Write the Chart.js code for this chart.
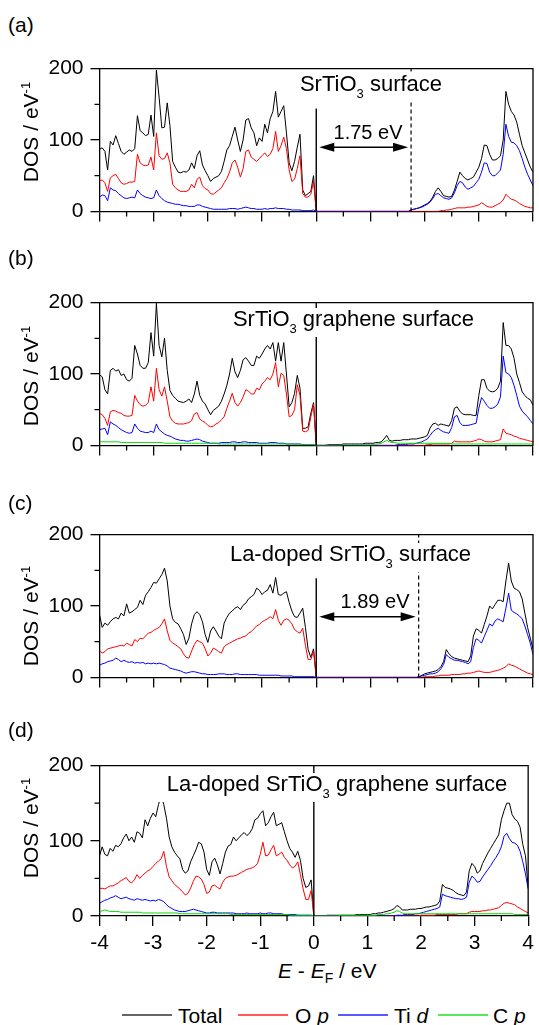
<!DOCTYPE html>
<html>
<head>
<meta charset="utf-8">
<script src="https://cdn.jsdelivr.net/npm/chart.js@4.4.1/dist/chart.umd.min.js"></script>
<style>
  body { margin: 0; background: #fff; font-family: 'Liberation Sans', Arial, sans-serif; color: #000; }
  #fig { position: relative; width: 539px; height: 1025px; overflow: hidden; background: #fff; }
  canvas { position: absolute; left: 0; }
  .t { position: absolute; white-space: nowrap; }
  .lab { font-size: 21px; line-height: 21px; left: 8px; }
  .ytl { position: absolute; left: 29.5px; font-size: 21px; line-height: 21px; white-space: nowrap;
         transform: translate(-50%, -50%) rotate(-90deg); }
  .sup { font-size: 13px; position: relative; top: -8px; line-height: 0; }
  .ttl { position: absolute; font-size: 22px; line-height: 22px; background: #fff; padding: 0 8px 7px;
         transform: translateX(-50%); white-space: nowrap; }
  .sb { font-size: 13px; position: relative; top: 7px; line-height: 0; }
  .gl { position: absolute; font-size: 20px; line-height: 20px; transform: translateX(-50%); white-space: nowrap; }
  .xt { font-size: 21px; line-height: 21px; left: 278px; top: 960px; }
  .sbF { font-size: 14px; position: relative; top: 5px; line-height: 0; }
  .lg { position: absolute; top: 1014px; width: 50px; height: 2px; }
  .lt { font-size: 21px; line-height: 21px; top: 1004.5px; }
</style>
</head>
<body>
<div id="fig">
  <canvas id="cA" width="539" height="182" style="top:49px"></canvas>
  <canvas id="cB" width="539" height="182" style="top:283px"></canvas>
  <canvas id="cC" width="539" height="182" style="top:515px"></canvas>
  <canvas id="cD" width="539" height="210" style="top:746px"></canvas>

  <!-- panel letters -->
  <div class="t lab" style="top:14px">(a)</div>
  <div class="t lab" style="top:247px">(b)</div>
  <div class="t lab" style="top:492px">(c)</div>
  <div class="t lab" style="top:719px">(d)</div>

  <!-- y titles -->
  <div class="ytl" style="top:131.5px">DOS / eV<span class="sup">-1</span></div>
  <div class="ytl" style="top:376px">DOS / eV<span class="sup">-1</span></div>
  <div class="ytl" style="top:616px">DOS / eV<span class="sup">-1</span></div>
  <div class="ytl" style="top:827.5px">DOS / eV<span class="sup">-1</span></div>

  <!-- panel titles (white box hides lines behind) -->
  <div class="ttl" style="left:371px;top:73.4px">SrTiO<span class="sb">3</span> surface</div>
  <div class="ttl" style="left:353.5px;top:308.4px">SrTiO<span class="sb">3</span> graphene surface</div>
  <div class="ttl" style="left:350.5px;top:543.4px">La-doped SrTiO<span class="sb">3</span> surface</div>
  <div class="ttl" style="left:337px;top:773.4px">La-doped SrTiO<span class="sb">3</span> graphene surface</div>

  <!-- band gap labels -->
  <div class="gl" style="left:368px;top:122.4px">1.75 eV</div>
  <div class="gl" style="left:375px;top:591px">1.89 eV</div>

  <!-- x title -->
  <div class="t xt"><i>E</i> - <i>E</i><span class="sbF">F</span> / eV</div>

  <!-- legend -->
  <div class="lg" style="left:122px;background:rgba(0,0,0,0.6)"></div>
  <div class="t lt" style="left:178px">Total</div>
  <div class="lg" style="left:238px;background:rgba(255,0,0,0.65)"></div>
  <div class="t lt" style="left:295px">O <i>p</i></div>
  <div class="lg" style="left:338px;background:rgba(0,0,255,0.65)"></div>
  <div class="t lt" style="left:394px">Ti <i>d</i></div>
  <div class="lg" style="left:438px;background:rgba(0,220,0,0.65)"></div>
  <div class="t lt" style="left:493px">C <i>p</i></div>
</div>

<script>
// ---------- DATI ----------
// griglia di energia E - EF (eV), passo 0.05
const energy = [
  -4,-3.95,-3.9,-3.85,-3.8,-3.75,-3.7,-3.65,-3.6,-3.55,-3.5,-3.45,-3.4,-3.35,-3.3,-3.25,-3.2,-3.15,-3.1,-3.05,
  -3,-2.95,-2.9,-2.85,-2.8,-2.75,-2.7,-2.65,-2.6,-2.55,-2.5,-2.45,-2.4,-2.35,-2.3,-2.25,-2.2,-2.15,-2.1,-2.05,
  -2,-1.95,-1.9,-1.85,-1.8,-1.75,-1.7,-1.65,-1.6,-1.55,-1.5,-1.45,-1.4,-1.35,-1.3,-1.25,-1.2,-1.15,-1.1,-1.05,
  -1,-0.95,-0.9,-0.85,-0.8,-0.75,-0.7,-0.65,-0.6,-0.55,-0.5,-0.45,-0.4,-0.35,-0.3,-0.25,-0.2,-0.15,-0.1,-0.05,
  0,0.05,0.1,0.15,0.2,0.25,0.3,0.35,0.4,0.45,0.5,0.55,0.6,0.65,0.7,0.75,0.8,0.85,0.9,0.95,
  1,1.05,1.1,1.15,1.2,1.25,1.3,1.35,1.4,1.45,1.5,1.55,1.6,1.65,1.7,1.75,1.8,1.85,1.9,1.95,
  2,2.05,2.1,2.15,2.2,2.25,2.3,2.35,2.4,2.45,2.5,2.55,2.6,2.65,2.7,2.75,2.8,2.85,2.9,2.95,
  3,3.05,3.1,3.15,3.2,3.25,3.3,3.35,3.4,3.45,3.5,3.55,3.6,3.65,3.7,3.75,3.8,3.85,3.9,3.95,4
];

// (a) SrTiO3 surface
const aTotal = [
  87,89,84,58,98,93,106,95,84,80,83,86,84,88,134,113,110,106,108,135,
  105,198,160,117,118,152,120,70,62,55,54,56,55,58,68,60,78,85,65,57,
  50,42,46,48,50,56,70,86,92,105,118,100,84,100,128,130,117,110,92,103,
  98,122,110,130,140,168,132,140,148,110,68,57,70,90,108,30,22,25,28,50,
  0,0,0,0,0,0,0,0,0,0,0,0,0,0,0,0,0,0,0,0,
  0,0,0,0,0,0,0,0,0,0,0,0,0,0,0,2,3,4,5,7,
  9,11,14,20,28,33,28,22,21,20,21,30,42,55,50,46,44,46,48,55,
  62,74,93,92,80,72,72,74,78,100,168,150,140,135,125,108,92,82,72,62,55
];
const aOp = [
  43,44,40,28,47,50,52,46,40,38,39,41,41,42,80,68,65,64,65,76,
  58,110,78,73,74,82,68,38,33,30,28,28,28,30,38,33,45,48,36,32,
  30,25,24,27,30,33,40,46,55,68,72,62,48,60,84,86,76,73,70,74,
  78,82,77,80,88,112,84,92,104,88,58,42,45,60,78,25,20,20,24,42,
  0,0,0,0,0,0,0,0,0,0,0,0,0,0,0,0,0,0,0,0,
  0,0,0,0,0,0,0,0,0,0,0,0,0,0,0,0,0,0,0,0,
  0,0,0,0,0,0,1,1,2,2,3,4,5,5,5,5,6,6,7,8,
  9,12,10,7,6,6,8,10,12,16,24,20,17,16,14,11,9,7,6,5,5
];
const aTid = [
  20,23,22,15,33,30,29,25,22,19,18,19,20,19,30,25,22,20,19,18,
  19,30,22,18,15,13,12,11,10,10,9,8,8,7,7,7,9,9,7,6,
  5,4,3,3,3,3,3,3,4,4,4,3,4,5,6,5,4,4,3,3,
  3,4,3,4,4,5,4,4,4,3,3,2,2,2,2,1,1,1,1,2,
  0,0,0,0,0,0,0,0,0,0,0,0,0,0,0,0,0,0,0,0,
  0,0,0,0,0,0,0,0,0,0,0,0,0,0,0,2,3,4,5,6,
  8,10,13,18,24,25,22,19,18,17,19,26,36,42,40,34,31,33,35,40,
  45,55,68,67,55,50,50,54,58,80,122,105,97,96,92,85,74,62,52,44,36
];

// (b) SrTiO3 graphene surface
const bTotal = [
  99,96,78,72,105,108,104,106,98,100,92,90,94,140,128,112,108,108,116,158,
  125,199,140,124,150,105,77,70,66,62,61,60,62,65,60,72,90,70,62,58,
  50,43,49,52,55,62,72,84,100,122,103,95,105,120,123,118,112,112,125,122,
  128,135,140,135,144,118,144,118,144,100,54,60,73,98,80,24,24,26,45,60,
  0,0,0,0,0.5,1,1,1,1,1,2,2,2,2,2,2,2,2,3,3,
  3,3,4,4,5,9,14,7,6,7,7,7,8,8,8,9,9,9,10,11,
  12,14,24,30,31,28,30,29,28,27,35,52,54,48,44,43,43,43,42,42,
  70,92,92,80,76,75,76,80,90,172,140,140,135,122,100,88,75,70,66,64,56
];
const bOp = [
  45,43,38,28,47,49,48,46,45,42,41,41,42,70,62,57,55,56,60,82,
  62,108,78,69,82,62,40,34,31,30,30,30,31,32,35,44,46,37,34,32,
  28,26,27,30,32,36,40,52,62,73,60,55,60,68,78,76,72,72,80,78,
  86,90,95,92,100,116,82,101,98,72,40,42,50,85,70,20,19,21,40,58,
  0,0,0,0,0,0,0,0,0,0,0,0,0,0,0,0,0,0,0,0,
  0,0,0,0,0,0,0,0,0,0,0,0,0,0,0,0,0,0,0,0,
  0,1,1,2,2,2,2,2,2,2,3,6,5,5,5,5,5,5,6,7,
  9,8,6,5,5,5,6,7,8,23,17,16,15,13,12,10,9,8,7,6,5
];
const bTid = [
  22,23,24,15,33,30,28,25,22,20,18,17,18,30,24,20,19,18,18,20,
  18,30,22,19,16,14,13,11,9,8,7,7,6,6,7,8,9,8,6,5,
  4,3,3,3,3,4,4,4,4,5,5,4,4,5,5,4,4,4,4,3,
  3,3,3,4,4,4,3,3,3,2,2,2,2,2,2,1,1,1,1,1,
  0,0,0,0,0,0,0,0,0,0,0,0,0,0,0,0,0,0,0,0,
  0,0,0,0,0,0,0,0,0,0,1,1,1,1,2,2,2,3,4,5,
  7,9,14,19,22,24,21,19,18,17,25,40,42,32,28,28,28,29,30,31,
  52,67,62,56,52,52,54,58,68,125,102,100,95,84,70,55,48,44,40,35,30
];
const bCp = [
  5,5,5,5,5,5,5,5,4,4,4,4,4,4,4,4,4,4,4,4,
  4,4,4,4,3,3,3,3,3,3,3,3,3,3,3,3,3,3,3,3,
  3,3,3,3,2,2,2,2,2,2,2,2,2,2,2,2,2,2,2,2,
  2,2,2,2,2,2,2,2,2,2,2,2,1,1,1,1,1,1,1,1,
  0,0,0,0,0,0,0,0,0,0,1,1,1,1,1,1,1,1,1,1,
  1,1,2,2,3,5,7,5,4,4,3,3,3,3,3,3,3,3,3,3,
  3,3,3,3,3,3,3,3,3,3,2,2,2,2,2,2,2,2,2,2,
  2,2,2,2,2,2,2,2,2,2,2,2,2,2,2,2,2,2,2,2,2
];

// (c) La-doped SrTiO3 surface
const cTotal = [
  88,70,76,73,78,82,84,82,90,86,103,90,92,95,98,108,102,115,120,126,
  133,132,138,144,153,135,100,82,77,75,68,60,46,55,75,88,92,88,78,60,
  49,65,71,65,58,54,76,84,90,93,97,99,95,101,104,110,113,116,125,122,
  116,120,122,130,118,140,116,115,118,120,105,93,85,84,90,97,70,39,28,40,
  0,0,0,0,0,0,0,0,0,0,0,0,0,0,0,0,0,0,0,0,
  0,0,0,0,0,0,0,0,0,0,0,0,0,0,0,0,0,0,1,3,
  5,6,7,8,9,11,15,22,39,33,29,27,26,25,24,23,22,30,58,68,
  66,62,74,86,100,96,102,108,108,106,135,160,135,125,123,120,110,90,70,55,40
];
const cOp = [
  38,34,36,40,41,42,43,44,45,44,48,46,44,53,50,55,54,58,62,63,
  66,68,70,75,82,65,52,48,46,43,40,33,28,27,37,46,52,50,48,40,
  30,34,41,39,36,34,43,46,48,50,52,54,55,57,58,62,64,68,72,74,
  78,80,82,85,82,95,80,73,80,82,80,75,67,64,62,69,45,25,25,37,
  0,0,0,0,0,0,0,0,0,0,0,0,0,0,0,0,0,0,0,0,
  0,0,0,0,0,0,0,0,0,0,0,0,0,0,0,0,0,0,0,0,
  1,1,1,1,2,2,3,3,3,3,4,4,4,4,5,5,6,6,7,8,
  9,8,7,7,7,8,9,10,11,13,15,19,17,16,14,12,10,8,6,5,4
];
const cTid = [
  17,19,20,22,23,24,27,25,22,24,22,21,22,20,21,20,21,19,20,19,
  20,19,20,19,18,16,13,12,11,10,9,7,6,7,8,8,7,6,5,5,
  4,4,4,4,5,5,5,4,4,4,5,5,4,4,4,4,4,4,4,3,
  3,3,3,3,3,3,3,2,2,2,2,2,1,1,1,1,1,1,1,1,
  0,0,0,0,0,0,0,0,0,0,0,0,0,0,0,0,0,0,0,0,
  0,0,0,0,0,0,0,0,0,0,0,0,0,0,0,0,0,0,1,2,
  3,4,5,5,6,8,12,18,32,28,26,24,24,23,22,21,19,22,42,54,
  52,48,57,66,75,72,79,82,80,78,97,118,94,91,89,86,82,72,60,48,32
];

// (d) La-doped SrTiO3 graphene surface
const dTotal = [
  80,92,82,80,90,86,94,92,96,104,109,100,105,98,112,110,104,128,120,130,
  137,132,148,160,148,130,105,92,85,80,76,62,57,60,72,80,88,98,96,85,
  62,54,72,77,68,56,70,85,93,95,105,100,104,108,111,107,110,116,128,130,
  136,140,120,124,132,138,120,122,124,112,100,90,85,78,86,74,50,38,40,48,
  0,0,0,0,0,1,1,1,1,1,1,1,1,1,1,1,2,2,2,2,
  2,2,3,3,4,4,5,6,7,8,10,14,12,8,8,8,9,9,9,10,
  10,11,12,12,13,14,15,20,42,38,37,36,34,31,29,28,27,32,60,70,
  66,57,60,70,77,84,90,96,102,108,128,140,150,150,135,129,126,118,95,80,38
];
const dOp = [
  36,37,36,38,40,40,42,44,47,49,51,46,44,48,55,50,54,57,60,62,
  66,70,73,76,86,66,52,47,42,39,36,32,28,30,37,46,53,52,49,42,
  30,32,40,41,38,36,45,50,52,53,53,54,56,58,60,62,63,64,66,70,
  82,98,80,81,88,94,80,82,85,78,74,68,64,66,72,55,36,22,22,34,
  0,0,0,0,0,0,0,0,0,0,0,0,0,0,0,0,0,0,0,0,
  0,0,0,0,0,0,0,0,0,0,0,0,0,0,0,0,0,0,0,0,
  1,1,1,1,1,1,2,2,2,2,2,2,2,2,3,3,3,3,5,6,
  6,6,6,7,7,8,8,9,10,11,14,17,18,17,16,15,12,10,8,6,4
];
const dTid = [
  17,19,21,22,24,25,27,25,23,24,25,23,22,21,23,22,21,22,21,20,
  21,20,22,21,19,15,12,10,8,7,6,6,6,7,8,9,8,7,6,5,
  4,4,5,5,4,4,4,4,4,4,4,3,3,3,3,4,3,3,3,3,
  4,3,3,4,4,3,3,3,3,2,2,2,2,2,1,1,1,1,1,1,
  0,0,0,0,0,0,0,0,0,0,0,0,0,0,0,0,0,0,0,0,
  0,0,0,0,0,0,0,0,0,0,0,1,1,1,2,2,2,2,3,3,
  4,5,6,7,8,9,10,12,29,27,26,25,24,23,23,22,23,25,45,53,
  50,45,46,52,57,62,67,73,78,84,92,106,110,103,98,97,94,86,72,56,36
];
const dCp = [
  5,7,8,7,6,6,6,6,5,5,5,5,5,5,5,5,4,4,4,4,
  4,4,4,4,4,4,4,4,4,4,3,3,3,3,3,3,3,3,3,3,
  3,3,3,3,3,3,3,3,3,2,2,2,2,2,2,2,2,2,2,2,
  2,2,2,2,2,2,2,2,2,2,2,1,1,1,1,1,1,1,1,1,
  0,0,0,0,0,0,0,0,0,0,1,1,1,1,1,1,1,1,1,1,
  1,1,1,1,2,2,2,3,3,4,5,7,6,4,3,3,3,3,3,3,
  3,3,3,3,3,3,3,3,3,3,3,3,3,3,3,3,3,3,3,3,
  3,3,3,3,3,3,3,3,3,3,3,3,3,3,3,2,2,2,2,2,2
];

// linee di riferimento per pannello: EF, gap, freccia
const fermiTop   = [144, 200, 139, 200];
const gapEnergy  = [1.75, null, 1.89, null];
const arrowLevel = [90, null, 85, null];

// tacche minori
const minorY = [50, 150];
const minorX = [-3.5, -2.5, -1.5, -0.5, 0.5, 1.5, 2.5, 3.5];

const seriesMeta = [
  { label: 'Total', color: '#000000' },
  { label: 'O p',   color: '#ff0000' },
  { label: 'Ti d',  color: '#0000ff' },
  { label: 'C p',   color: '#00dd00' },
];

const panels = [
  { id: 'cA', series: [aTotal, aOp, aTid, null] },
  { id: 'cB', series: [bTotal, bOp, bTid, bCp] },
  { id: 'cC', series: [cTotal, cOp, cTid, null] },
  { id: 'cD', series: [dTotal, dOp, dTid, dCp] },
];

// controllo lunghezze
panels.forEach(p => p.series.forEach((s, k) => {
  if (s && s.length !== energy.length) throw new Error(p.id + ' series ' + k + ' has ' + s.length);
}));

// ---------- PLUGIN: cornice, tacche minori, freccia del gap ----------
const frame = {
  id: 'frame',
  afterDatasetsDraw(chart, args, opts) {
    const { ctx, chartArea: a, scales: { x, y } } = chart;
    ctx.save();
    ctx.strokeStyle = '#000';
    ctx.fillStyle = '#000';
    ctx.lineWidth = 1.3;
    ctx.beginPath();
    ctx.moveTo(a.left, a.top);
    ctx.lineTo(a.right, a.top);
    ctx.lineTo(a.right, a.bottom);
    ctx.stroke();

    ctx.beginPath();
    minorY.forEach(v => {
      const py = y.getPixelForValue(v);
      ctx.moveTo(a.left, py); ctx.lineTo(a.left - 5, py);
    });
    minorX.forEach(v => {
      const px = x.getPixelForValue(v);
      ctx.moveTo(px, a.bottom); ctx.lineTo(px, a.bottom + 5);
    });
    ctx.stroke();

    if (opts.gap != null) {
      const py = y.getPixelForValue(opts.level);
      const x0 = x.getPixelForValue(0) + 3;
      const x1 = x.getPixelForValue(opts.gap) - 3;
      ctx.lineWidth = 1.5;
      ctx.beginPath();
      ctx.moveTo(x0 + 10, py); ctx.lineTo(x1 - 10, py);
      ctx.stroke();
      ctx.beginPath();
      ctx.moveTo(x0, py); ctx.lineTo(x0 + 15, py - 4.5); ctx.lineTo(x0 + 15, py + 4.5); ctx.closePath();
      ctx.moveTo(x1, py); ctx.lineTo(x1 - 15, py - 4.5); ctx.lineTo(x1 - 15, py + 4.5); ctx.closePath();
      ctx.fill();
    }
    ctx.restore();
  }
};

Chart.defaults.font.family = "'Liberation Sans', Arial, sans-serif";
Chart.defaults.color = '#000';

const toPoints = arr => energy.map((e, i) => ({ x: e, y: arr[i] }));

function makePanel(p, i) {
  const last = i === panels.length - 1;
  const ds = [];
  seriesMeta.forEach((m, k) => {
    const arr = p.series[k];
    if (!arr) return;
    ds.push({
      label: m.label, data: toPoints(arr),
      borderColor: m.color, borderWidth: 1, pointRadius: 0, tension: 0,
      order: 4 - k,
    });
  });
  // linea del livello di Fermi
  ds.push({
    label: 'EF', data: [{ x: 0, y: 0 }, { x: 0, y: fermiTop[i] }],
    borderColor: '#000', borderWidth: 1.4, pointRadius: 0, order: 0,
  });
  // linea tratteggiata del bordo di banda
  if (gapEnergy[i] != null) {
    ds.push({
      label: 'gap', data: [{ x: gapEnergy[i], y: 0 }, { x: gapEnergy[i], y: 200 }],
      borderColor: '#000', borderWidth: 1.2, borderDash: [4, 3], pointRadius: 0, order: 0,
    });
  }

  new Chart(document.getElementById(p.id), {
    type: 'line',
    data: { datasets: ds },
    options: {
      responsive: false,
      animation: false,
      events: [],
      layout: { padding: { top: 15, right: 6, left: 0, bottom: 0 } },
      plugins: {
        legend: { display: false },
        tooltip: { enabled: false },
        frame: { gap: gapEnergy[i], level: arrowLevel[i] },
      },
      scales: {
        x: {
          type: 'linear', min: -4, max: 4,
          ticks: { stepSize: 1, display: last, padding: 5, maxRotation: 0, autoSkip: false,
                   font: { size: 21 }, color: '#000', callback: v => String(v) },
          grid: { drawOnChartArea: false, drawTicks: true, tickLength: 10,
                  color: '#000', tickColor: '#000', tickWidth: 1.3, lineWidth: 1.3 },
          border: { display: true, color: '#000', width: 1.3 },
          afterFit: s => { s.height = last ? 40 : 12; },
        },
        y: {
          min: 0, max: 200,
          ticks: { stepSize: 100, padding: 7, font: { size: 21 }, color: '#000', callback: v => String(v) },
          grid: { drawOnChartArea: false, drawTicks: true, tickLength: 9,
                  color: '#000', tickColor: '#000', tickWidth: 1.3, lineWidth: 1.3 },
          border: { display: true, color: '#000', width: 1.3 },
          afterFit: s => { s.width = 99.5; },
        },
      },
    },
    plugins: [frame],
  });
}

panels.forEach(makePanel);
</script>
</body>
</html>
